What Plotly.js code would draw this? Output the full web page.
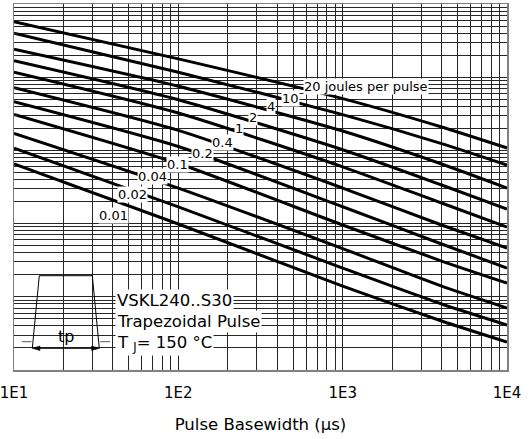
<!DOCTYPE html>
<html>
<head>
<meta charset="utf-8">
<script src="https://cdn.plot.ly/plotly-3.0.1.min.js"></script>
<style>
  html, body { margin: 0; padding: 0; background: #fff; }
  #chart { width: 532px; height: 439px; }
</style>
</head>
<body>
<div id="chart"></div>
<script>
// ---- data ----
const pulseWidth = [10, 100, 1000, 4000, 10000];           // µs
const energyLabels = ['20 joules per pulse', '10', '4', '2', '1', '0.4', '0.2', '0.1', '0.04', '0.02', '0.01'];
const e20  = [5.73e5, 1.78e5, 5.10e4, 2.09e4, 1.08e4];
const e10  = [3.98e5, 1.17e5, 3.08e4, 1.24e4, 6.32e3];
const e4   = [2.41e5, 7.53e4, 1.84e4, 6.52e3, 3.06e3];
const e2   = [1.68e5, 4.93e4, 1.02e4, 3.37e3, 1.58e3];
const e1   = [1.17e5, 3.24e4, 5.97e3, 1.91e3, 899];
const e04  = [7.19e4, 1.88e4, 3.06e3, 957, 464];
const e02  = [4.63e4, 1.13e4, 1.70e3, 526, 247];
const e01  = [3.11e4, 6.62e3, 957, 308, 154];
const e004 = [1.71e4, 3.06e3, 455, 140, 70.3];
const e002 = [1.07e4, 1.69e3, 247, 79.7, 41.2];
const e001 = [6.52e3, 987, 140, 46.7, 24.1];
const series = [e20, e10, e4, e2, e1, e04, e02, e01, e004, e002, e001];
const xTickVals = [10, 100, 1000, 10000];
const xTickText = ['1E1', '1E2', '1E3', '1E4'];
const xTitle = 'Pulse Basewidth (µs)';
const infoLines = ['VSKL240..S30', 'Trapezoidal Pulse', 'T <sub>J</sub>= 150 °C'];

// ---- layout helpers ----
const W = 532, H = 439, ML = 14, MR = 25, MT = 4, MB = 69;
const PW = W - ML - MR, PH = H - MT - MB;
const px = v => (v - ML) / PW;
const py = v => (H - MB - v) / PH;

function minorVals(lo, hi) {
  const out = [];
  for (let d = lo; d < hi; d++) for (let k = 2; k <= 9; k++) out.push(k * Math.pow(10, d));
  return out;
}

const FONT = 'DejaVu Sans, Arial, sans-serif';
const GRID = '#262626';
const traces = series.map((ys, i) => ({
  x: pulseWidth, y: ys, type: 'scatter', mode: 'lines',
  line: { color: '#000', width: 3, shape: 'spline', smoothing: 0.6 },
  hoverinfo: 'skip', name: energyLabels[i], showlegend: false
}));

// label positions (pixel) along the curves
const labelPos = [[366, 86], [290, 99], [271, 107], [253, 117.5], [238.5, 128], [222.5, 142],
                  [202, 153], [177.5, 164], [152.5, 176], [132.5, 194], [113.5, 215]];

const annotations = energyLabels.map((t, i) => ({
  xref: 'paper', yref: 'paper', x: px(labelPos[i][0]), y: py(labelPos[i][1]),
  xanchor: 'center', yanchor: 'middle',
  text: t, showarrow: false, bgcolor: '#fff', borderpad: 0,
  font: { family: FONT, size: 13, color: '#000' }
}));
const infoY = [300, 321.5, 343];
infoLines.forEach((t, i) => annotations.push({
  xref: 'paper', yref: 'paper', x: px(115), y: py(infoY[i]), xanchor: 'left', yanchor: 'middle',
  text: t, showarrow: false, bgcolor: '#fff', borderpad: 1,
  font: { family: FONT, size: 16.5, color: '#000' }
}));
annotations.push({
  xref: 'paper', yref: 'paper', x: px(66), y: py(336), xanchor: 'center', yanchor: 'middle',
  text: 'tp', showarrow: false,
  font: { family: FONT, size: 16, color: '#000' }
});

const P = (a, b) => px(a).toFixed(5) + ',' + py(b).toFixed(5);
const shapes = [
  { type: 'rect', xref: 'paper', yref: 'paper', x0: px(14.5), x1: px(113), y0: py(369.5), y1: py(262),
    fillcolor: '#fff', line: { width: 0 }, layer: 'between' },
  { type: 'path', xref: 'paper', yref: 'paper', path: 'M' + P(32.3, 348.3) + ' L' + P(39.3, 275.7) + ' L' + P(92.3, 275.7) + ' L' + P(99.3, 348.3),
    line: { color: '#000', width: 1 } },
  { type: 'line', xref: 'paper', yref: 'paper', x0: px(21.7), x1: px(31.5), y0: py(341.7), y1: py(341.7), line: { color: '#555', width: 1 } },
  { type: 'line', xref: 'paper', yref: 'paper', x0: px(100.2), x1: px(110), y0: py(341.7), y1: py(341.7), line: { color: '#555', width: 1 } },
  { type: 'line', xref: 'paper', yref: 'paper', x0: px(38), x1: px(93.5), y0: py(348.3), y1: py(348.3), line: { color: '#000', width: 1 } },
  { type: 'path', xref: 'paper', yref: 'paper', path: 'M' + P(32.3, 348.3) + ' L' + P(40, 346) + ' L' + P(40, 350.6) + ' Z',
    fillcolor: '#000', line: { color: '#000', width: 0.5 } },
  { type: 'path', xref: 'paper', yref: 'paper', path: 'M' + P(99.3, 348.3) + ' L' + P(91.6, 346) + ' L' + P(91.6, 350.6) + ' Z',
    fillcolor: '#000', line: { color: '#000', width: 0.5 } }
];

const layout = {
  width: W, height: H,
  margin: { l: ML, r: MR, t: MT, b: MB, pad: 0 },
  paper_bgcolor: '#fff', plot_bgcolor: '#fff',
  showlegend: false,
  font: { family: FONT, color: '#000' },
  xaxis: {
    type: 'log', range: [0.99999, 4.00001], fixedrange: true,
    tickmode: 'array', tickvals: xTickVals, ticktext: xTickText,
    ticks: 'inside', ticklen: 10, tickcolor: GRID, tickwidth: 1,
    tickfont: { family: FONT, size: 15, color: '#000' },
    ticklabelstandoff: 8, ticklabeloverflow: 'allow',
    showgrid: true, gridcolor: GRID, gridwidth: 1,
    minor: { tickmode: 'array', tickvals: minorVals(1, 4), showgrid: true, gridcolor: GRID, gridwidth: 1,
             ticks: 'inside', ticklen: 10, tickcolor: GRID },
    showline: true, linecolor: '#808080', linewidth: 1.5, mirror: true, zeroline: false,
    title: { text: xTitle, standoff: 18, font: { family: FONT, size: 16.5, color: '#000' } }
  },
  yaxis: {
    type: 'log', range: [1, 6], fixedrange: true,
    tickmode: 'array', tickvals: [10, 100, 1000, 10000, 100000, 1000000],
    showticklabels: false,
    ticks: 'inside', ticklen: 4, tickcolor: GRID, tickwidth: 1,
    showgrid: true, gridcolor: GRID, gridwidth: 1,
    minor: { tickmode: 'array', tickvals: minorVals(1, 6), showgrid: true, gridcolor: GRID, gridwidth: 1,
             ticks: 'inside', ticklen: 4, tickcolor: GRID },
    showline: true, linecolor: '#808080', linewidth: 1.5, mirror: true, zeroline: false
  },
  shapes: shapes,
  annotations: annotations
};

Plotly.newPlot('chart', traces, layout, { displayModeBar: false, staticPlot: true });
</script>
</body>
</html>
